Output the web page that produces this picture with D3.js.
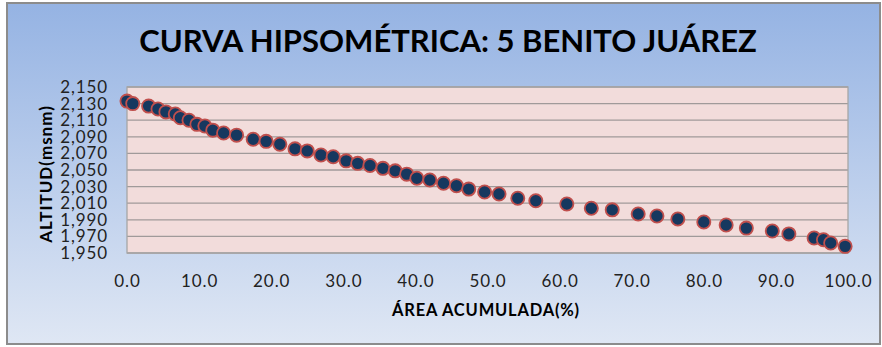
<!DOCTYPE html>
<html><head><meta charset="utf-8">
<script src="https://cdn.jsdelivr.net/npm/d3@7/dist/d3.min.js"></script>
<style>html,body{margin:0;padding:0;background:#fff;}svg{display:block;}</style>
</head><body>
<script>
const titleText = "CURVA HIPSOMÉTRICA: 5 BENITO JUÁREZ";
const xTitle = "ÁREA ACUMULADA(%)";
const yTitle = "ALTITUD(msnm)";
const areaPct = [0, 0.8, 3, 4.3, 5.4, 6.7, 7.4, 8.6, 9.7, 10.8, 11.9, 13.4, 15.2, 17.5, 19.3, 21.2, 23.3, 25.0, 26.9, 28.6, 30.4, 32.0, 33.7, 35.5, 37.2, 38.8, 40.2, 42.0, 43.9, 45.7, 47.4, 49.6, 51.6, 54.2, 56.7, 61.0, 64.4, 67.3, 70.9, 73.5, 76.4, 80.0, 83.1, 85.9, 89.5, 91.8, 95.3, 96.6, 97.6, 99.6];
const altitude = [2133, 2130, 2127, 2123.5, 2120, 2117.5, 2113, 2110, 2105, 2103, 2098, 2094.6, 2092, 2087, 2084.5, 2081, 2075.5, 2073, 2068, 2066, 2061, 2058, 2055.5, 2052, 2049, 2045, 2040, 2038, 2034, 2031, 2027, 2023.5, 2021, 2016, 2013, 2009, 2004, 2002, 1997, 1994.6, 1991, 1987.4, 1983.7, 1980, 1976.5, 1973, 1968, 1966, 1962, 1958];
const xTicks = [0,10,20,30,40,50,60,70,80,90,100];
const yTicks = [1950,1970,1990,2010,2030,2050,2070,2090,2110,2130,2150];

const W = 882, H = 347;
const svg = d3.select("body").append("svg").attr("width", W).attr("height", H);
const defs = svg.append("defs");
const grad = defs.append("linearGradient").attr("id","bg").attr("x1",0).attr("y1",0).attr("x2",0).attr("y2",1);
grad.append("stop").attr("offset","0%").attr("stop-color","#95b3e3");
grad.append("stop").attr("offset","100%").attr("stop-color","#dfe7f4");
const glow = defs.append("filter").attr("id","glow").attr("x","-50%").attr("y","-50%").attr("width","200%").attr("height","200%");
glow.append("feGaussianBlur").attr("in","SourceGraphic").attr("stdDeviation",0.6);

svg.append("rect").attr("x",7).attr("y",3).attr("width",873).attr("height",341)
  .attr("fill","url(#bg)").attr("stroke","#8c8c8c").attr("stroke-width",2);

const m = {l:127, r:848, t:87, b:253};
const x = d3.scaleLinear().domain([0,100]).range([m.l, m.r]);
const y = d3.scaleLinear().domain([1950,2150]).range([m.b, m.t]);

svg.append("rect").attr("x",m.l).attr("y",m.t).attr("width",m.r-m.l).attr("height",m.b-m.t)
  .attr("fill","#f2dcdb");
svg.append("g").selectAll("line").data(yTicks).join("line")
  .attr("x1",m.l).attr("x2",m.r).attr("y1",d=>y(d)).attr("y2",d=>y(d))
  .attr("stroke","#a09a9a").attr("stroke-width",1.3);
svg.append("rect").attr("x",m.l).attr("y",m.t).attr("width",m.r-m.l).attr("height",m.b-m.t)
  .attr("fill","none").attr("stroke","#a6a6a6").attr("stroke-width",1.3);

const font = "Lato, 'Open Sans', sans-serif";
const yAxis = d3.axisLeft(y).tickValues(yTicks).tickSize(0).tickPadding(0).tickFormat(d3.format(","));
const gy = svg.append("g").attr("transform",`translate(${108},0)`).call(yAxis);
gy.select(".domain").remove();
gy.selectAll("text").attr("font-family",font).attr("font-size",17).attr("letter-spacing",0.9).attr("fill","#222");

const xAxis = d3.axisBottom(x).tickValues(xTicks).tickSize(0).tickPadding(0).tickFormat(d3.format(".1f"));
const gx = svg.append("g").attr("transform",`translate(0,${287})`).call(xAxis);
gx.select(".domain").remove();
gx.selectAll("text").attr("dy",0).attr("font-family",font).attr("font-size",17).attr("letter-spacing",0.9).attr("fill","#222");

svg.append("text").attr("x",448).attr("y",52).attr("text-anchor","middle")
  .attr("font-family",font).attr("font-weight","bold").attr("font-size",31).attr("fill","#000")
  .text(titleText);
svg.append("text").attr("x",486).attr("y",316).attr("text-anchor","middle")
  .attr("font-family",font).attr("font-weight","bold").attr("font-size",16.5).attr("letter-spacing",0.8).attr("fill","#000")
  .text(xTitle);
svg.append("text").attr("transform","translate(52,174) rotate(-90)").attr("text-anchor","middle")
  .attr("font-family",font).attr("font-weight","bold").attr("font-size",17).attr("letter-spacing",1).attr("fill","#000")
  .text(yTitle);

const pts = areaPct.map((a,i)=>({a, v: altitude[i]}));
svg.append("g").selectAll("circle").data(pts).join("circle")
  .attr("cx",d=>x(d.a)).attr("cy",d=>y(d.v)).attr("r",6.6)
  .attr("fill","#17375e").attr("stroke","#c0504d").attr("stroke-width",1.8)
  .attr("filter","url(#glow)");
</script>
</body></html>
